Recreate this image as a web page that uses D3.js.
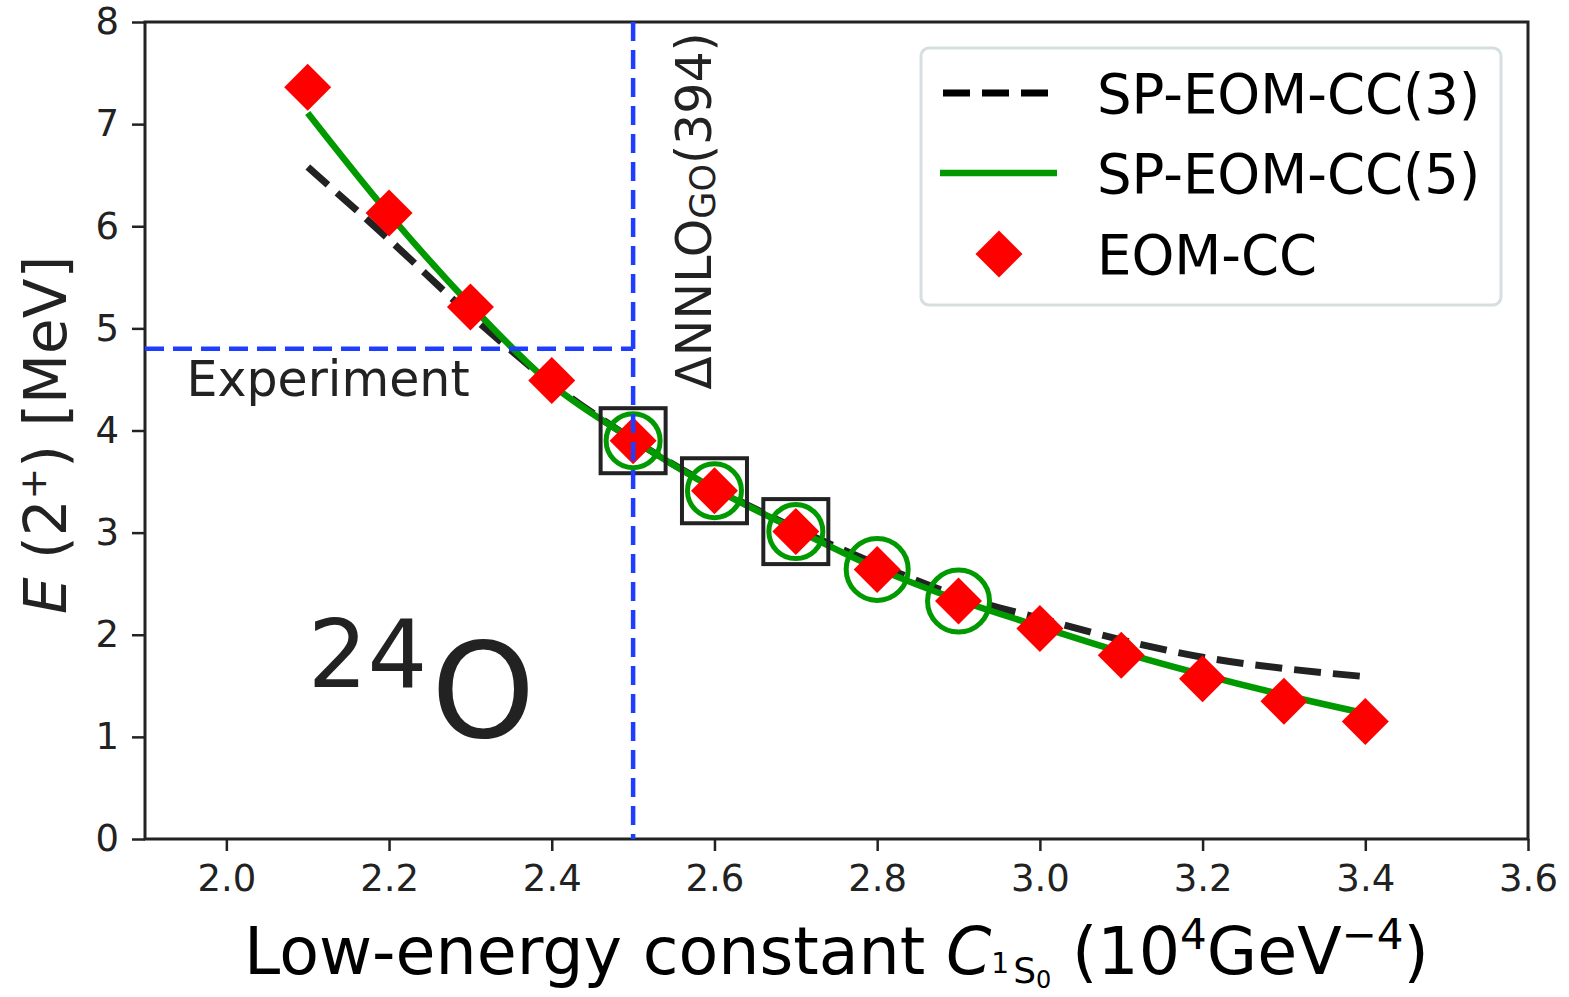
<!DOCTYPE html>
<html>
<head>
<meta charset="utf-8">
<script src="https://cdn.jsdelivr.net/npm/d3@7/dist/d3.min.js"></script>
<style>
  body { margin: 0; background: #fff; }
  svg { display: block; font-family: "DejaVu Sans", sans-serif; }
</style>
</head>
<body>
<div id="chart"></div>
<script>
// values
const lecValues = [2.1, 2.2, 2.3, 2.4, 2.5, 2.6, 2.7, 2.8, 2.9, 3.0, 3.1, 3.2, 3.3, 3.4];
const eomCC     = [7.36, 6.13, 5.21, 4.49, 3.90, 3.41, 3.01, 2.64, 2.33, 2.06, 1.80, 1.57, 1.35, 1.15];
const spEomCC5  = [7.11, 6.12, 5.23, 4.45, 3.91, 3.43, 3.03, 2.65, 2.34, 2.08, 1.83, 1.61, 1.41, 1.23];
const spEomCC3  = [6.58, 5.87, 5.13, 4.46, 3.91, 3.44, 3.04, 2.69, 2.38, 2.16, 1.95, 1.78, 1.67, 1.59];
const squareLec = [2.5, 2.6, 2.7];          // squares around the emulator training points
const smallCircleLec = [2.5, 2.6, 2.7];
const bigCircleLec = [2.8, 2.9];
const experimentE = 4.8;
const delta394Lec = 2.5;
const xTicks = [2.0, 2.2, 2.4, 2.6, 2.8, 3.0, 3.2, 3.4, 3.6];
const yTicks = [0, 1, 2, 3, 4, 5, 6, 7, 8];
const legendNames = ['SP-EOM-CC(3)', 'SP-EOM-CC(5)', 'EOM-CC'];

const W = 1569, H = 997;
const margin = { left: 145, right: 41, top: 22, bottom: 158 };
const textColor = '#222222';

const svg = d3.select('#chart').append('svg')
    .attr('width', W)
    .attr('height', H);

const x = d3.scaleLinear().domain([1.9, 3.6]).range([margin.left, W - margin.right]);
const y = d3.scaleLinear().domain([0, 8]).range([H - margin.bottom, margin.top]);

const eomAt = lec => eomCC[lecValues.findIndex(v => Math.abs(v - lec) < 1e-9)];

// axes
const xAxis = svg.append('g')
    .attr('transform', `translate(0,${y(0)})`)
    .call(d3.axisBottom(x).tickValues(xTicks).tickFormat(d3.format('.1f')).tickSize(12).tickPadding(14));
const yAxis = svg.append('g')
    .attr('transform', `translate(${x(1.9)},0)`)
    .call(d3.axisLeft(y).tickValues(yTicks).tickFormat(d3.format('d')).tickSize(13).tickPadding(13));

[xAxis, yAxis].forEach(g => {
    g.select('.domain').remove();
    g.selectAll('.tick line').attr('stroke', textColor).attr('stroke-width', 2.5);
    g.selectAll('.tick text')
        .attr('fill', textColor)
        .style('font-size', '37px')
        .style('font-family', '"DejaVu Sans", sans-serif');
});

// frame
svg.append('rect')
    .attr('x', x(1.9))
    .attr('y', y(8))
    .attr('width', x(3.6) - x(1.9))
    .attr('height', y(0) - y(8))
    .attr('fill', 'none')
    .attr('stroke', textColor)
    .attr('stroke-width', 3);

const line = vals => d3.line()
    .x((d, i) => x(lecValues[i]))
    .y(d => y(d))
    .curve(d3.curveMonotoneX)(vals);

// SP-EOM-CC(3) dashed
svg.append('path')
    .attr('d', line(spEomCC3))
    .attr('fill', 'none')
    .attr('stroke', textColor)
    .attr('stroke-width', 7)
    .attr('stroke-dasharray', '27,12');

// SP-EOM-CC(5) solid green
svg.append('path')
    .attr('d', line(spEomCC5))
    .attr('fill', 'none')
    .attr('stroke', '#009a00')
    .attr('stroke-width', 6.5);

// green open circles
svg.append('g').selectAll('circle.small')
    .data(smallCircleLec)
    .enter()
    .append('circle')
    .attr('cx', d => x(d))
    .attr('cy', d => y(eomAt(d)))
    .attr('r', 27)
    .attr('fill', 'none')
    .attr('stroke', '#009a00')
    .attr('stroke-width', 5);

svg.append('g').selectAll('circle.big')
    .data(bigCircleLec)
    .enter()
    .append('circle')
    .attr('cx', d => x(d))
    .attr('cy', d => y(eomAt(d)))
    .attr('r', 31)
    .attr('fill', 'none')
    .attr('stroke', '#009a00')
    .attr('stroke-width', 5);

// black open squares
const half = 32.5;
svg.append('g').selectAll('rect')
    .data(squareLec)
    .enter()
    .append('rect')
    .attr('x', d => x(d) - half)
    .attr('y', d => y(eomAt(d)) - half)
    .attr('width', half * 2)
    .attr('height', half * 2)
    .attr('fill', 'none')
    .attr('stroke', textColor)
    .attr('stroke-width', 4);

// red diamonds
const diamond = (cx, cy, h) => `M${cx},${cy - h}L${cx + h},${cy}L${cx},${cy + h}L${cx - h},${cy}Z`;
svg.append('g').selectAll('path')
    .data(eomCC)
    .enter()
    .append('path')
    .attr('d', (d, i) => diamond(x(lecValues[i]), y(d), 23.5))
    .attr('fill', '#ff0000');

// experiment + interaction reference lines
svg.append('line')
    .attr('x1', x(1.9)).attr('x2', x(delta394Lec))
    .attr('y1', y(experimentE)).attr('y2', y(experimentE))
    .attr('stroke', '#1f3dff')
    .attr('stroke-width', 4.5)
    .attr('stroke-dasharray', '19,9');
svg.append('line')
    .attr('x1', x(delta394Lec)).attr('x2', x(delta394Lec))
    .attr('y1', y(8)).attr('y2', y(0))
    .attr('stroke', '#1f3dff')
    .attr('stroke-width', 4.5)
    .attr('stroke-dasharray', '19,9');

// annotations
svg.append('text')
    .attr('x', x(1.951))
    .attr('y', y(4.34))
    .attr('fill', textColor)
    .style('font-size', '49px')
    .text('Experiment');

const delta = svg.append('text')
    .attr('transform', `translate(${x(2.6) - 3},${y(4.4)}) rotate(-90)`)
    .attr('fill', textColor)
    .style('font-size', '49px');
delta.append('tspan').text('\u0394NNLO');
delta.append('tspan').attr('dy', 4).style('font-size', '35px').text('GO');
delta.append('tspan').attr('dy', -4).text('(394)');

const nucleus = svg.append('text')
    .attr('x', x(2.1))
    .attr('y', y(1.0))
    .attr('fill', textColor)
    .style('font-size', '132px');
nucleus.append('tspan').attr('dy', -50).style('font-size', '94px').text('24');
nucleus.append('tspan').attr('dy', 50).attr('dx', 4).text('O');

// axis titles
const xt = svg.append('text')
    .attr('x', (x(1.9) + x(3.6)) / 2)
    .attr('y', 974)
    .attr('text-anchor', 'middle')
    .attr('fill', '#000')
    .style('font-size', '65px');
xt.append('tspan').text('Low-energy constant ');
xt.append('tspan').style('font-style', 'italic').text('C');
xt.append('tspan').style('font-size', '28px').attr('dy', -1).text('1');
xt.append('tspan').style('font-size', '36px').attr('dx', 4).attr('dy', 10).text('S');
xt.append('tspan').style('font-size', '24px').attr('dy', 5).text('0');
xt.append('tspan').attr('dy', -14).text(' (10');
xt.append('tspan').style('font-size', '42px').attr('dy', -25).text('4');
xt.append('tspan').attr('dy', 25).text('GeV');
xt.append('tspan').style('font-size', '42px').attr('dy', -25).text('\u22124');
xt.append('tspan').attr('dy', 25).text(')');

const yt = svg.append('text')
    .attr('transform', `translate(66,435) rotate(-90)`)
    .attr('text-anchor', 'middle')
    .attr('fill', textColor)
    .style('font-size', '58px');
yt.append('tspan').style('font-style', 'italic').text('E');
yt.append('tspan').text(' (2');
yt.append('tspan').style('font-size', '38px').attr('dy', -20).text('+');
yt.append('tspan').attr('dy', 20).text(') [MeV]');

// legend
const legend = svg.append('g');
legend.append('rect')
    .attr('x', 921).attr('y', 48)
    .attr('width', 580).attr('height', 257)
    .attr('rx', 8)
    .attr('fill', '#fff')
    .attr('stroke', '#d6dfdf')
    .attr('stroke-width', 3);
const rowY = [93, 173, 254];
legend.append('line')
    .attr('x1', 943).attr('x2', 1053)
    .attr('y1', rowY[0]).attr('y2', rowY[0])
    .attr('stroke', '#000').attr('stroke-width', 7)
    .attr('stroke-dasharray', '27,12');
legend.append('line')
    .attr('x1', 940).attr('x2', 1057)
    .attr('y1', rowY[1]).attr('y2', rowY[1])
    .attr('stroke', '#009a00').attr('stroke-width', 6.5);
legend.append('path')
    .attr('d', diamond(999, rowY[2], 23.5))
    .attr('fill', '#ff0000');
legend.selectAll('text')
    .data(legendNames)
    .enter()
    .append('text')
    .attr('x', 1097)
    .attr('y', (d, i) => rowY[i] + 20)
    .attr('fill', '#000')
    .style('font-size', '54.5px')
    .text(d => d);
</script>
</body>
</html>
